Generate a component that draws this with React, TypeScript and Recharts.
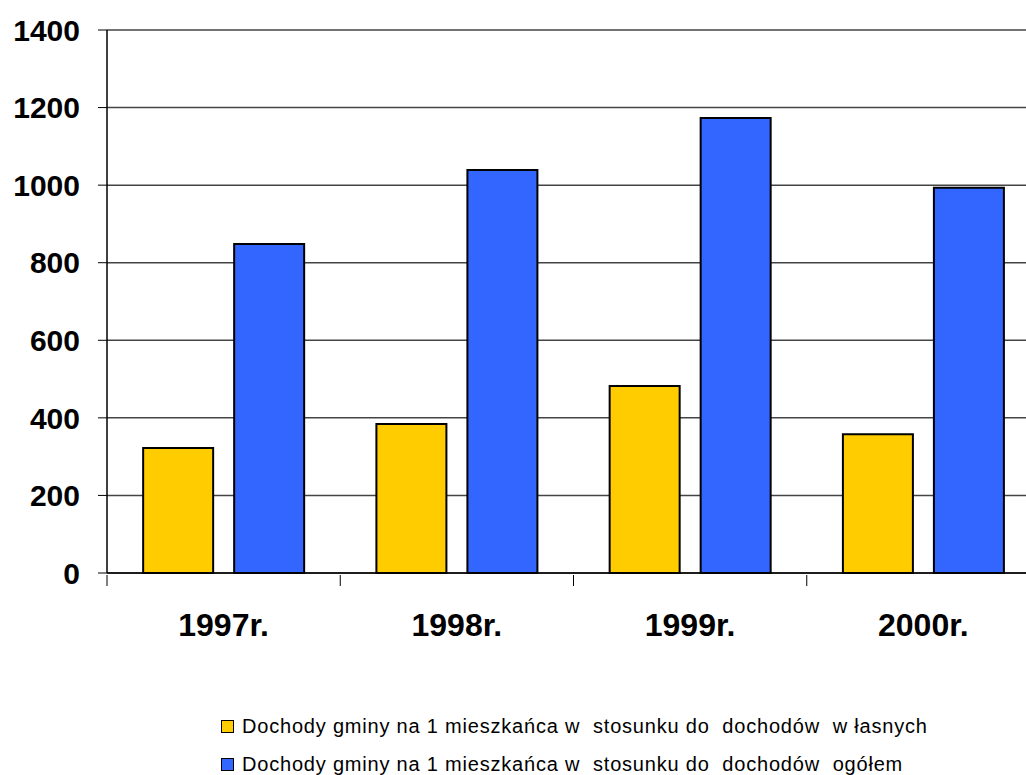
import React from 'react';
import { BarChart, Bar, XAxis, YAxis, CartesianGrid, Legend } from 'recharts';

const years = ['1997r.', '1998r.', '1999r.', '2000r.'];
const wlasne = [322, 384, 482, 358];
const ogolem = [848, 1039, 1173, 993];
const yTicks = [0, 200, 400, 600, 800, 1000, 1200, 1400];

const seriesNames = [
  'Dochody gminy na 1 mieszkańca w  stosunku do  dochodów  w łasnych',
  'Dochody gminy na 1 mieszkańca w  stosunku do  dochodów  ogółem',
];
const colors = ['#FFCC00', '#3366FF'];

const data = years.map((year, i) => ({ year, wlasne: wlasne[i], ogolem: ogolem[i] }));

// plot runs a bit past the right edge of the window, like the original
const CHART_W = 1040;
const PLOT_LEFT = 107;
const halfBand = (CHART_W - PLOT_LEFT) / years.length / 2;
const FONT = "'Liberation Sans', Arial, sans-serif";

const XTick = (props: any) => {
  const { x, y, payload } = props;
  return (
    <g>
      <line x1={x - halfBand} x2={x - halfBand} y1={y} y2={y + 11} stroke="#000" strokeWidth={1} />
      <text x={x} y={y + 61} textAnchor="middle" fontFamily={FONT} fontWeight="bold" fontSize={32} fill="#000">
        {payload.value}
      </text>
    </g>
  );
};

const LegendContent = () => (
  <div style={{ fontFamily: FONT, fontSize: 20, letterSpacing: 0.8, color: '#000' }}>
    {seriesNames.map((name, i) => (
      <div key={name} style={{ display: 'flex', alignItems: 'center', height: 38, whiteSpace: 'pre' }}>
        <span
          style={{
            display: 'inline-block',
            width: 11,
            height: 11,
            background: colors[i],
            border: '1px solid #000',
            marginRight: 8,
          }}
        />
        {name}
      </div>
    ))}
  </div>
);

const App: React.FC = () => {
  return (
    <div style={{ position: 'absolute', left: 0, top: 0, width: 1026, height: 775, overflow: 'hidden', background: '#fff' }}>
      <BarChart
        width={CHART_W}
        height={775}
        data={data}
        margin={{ top: 30, right: 0, left: 0, bottom: 46 }}
        barCategoryGap="15.5%"
        barGap={21}
      >
        <CartesianGrid vertical={false} stroke="#444" strokeWidth={1.5} />
        <XAxis
          dataKey="year"
          height={80}
          tick={<XTick />}
          tickLine={false}
          tickSize={0}
          axisLine={{ stroke: '#000', strokeWidth: 1.5 }}
          interval={0}
        />
        <YAxis
          width={PLOT_LEFT}
          domain={[0, 1400]}
          ticks={yTicks}
          interval={0}
          tickSize={9}
          tickMargin={18}
          tickLine={{ stroke: '#000' }}
          axisLine={{ stroke: '#000', strokeWidth: 1.5 }}
          tick={{ fontFamily: FONT, fontWeight: 'bold', fontSize: 30, fill: '#000' }}
        />
        <Legend
          content={<LegendContent />}
          wrapperStyle={{ position: 'absolute', left: 221, top: 707, width: 800 }}
        />
        <Bar dataKey="wlasne" name={seriesNames[0]} fill={colors[0]} stroke="#000" strokeWidth={2} isAnimationActive={false} />
        <Bar dataKey="ogolem" name={seriesNames[1]} fill={colors[1]} stroke="#000" strokeWidth={2} isAnimationActive={false} />
      </BarChart>
    </div>
  );
};

export default App;
